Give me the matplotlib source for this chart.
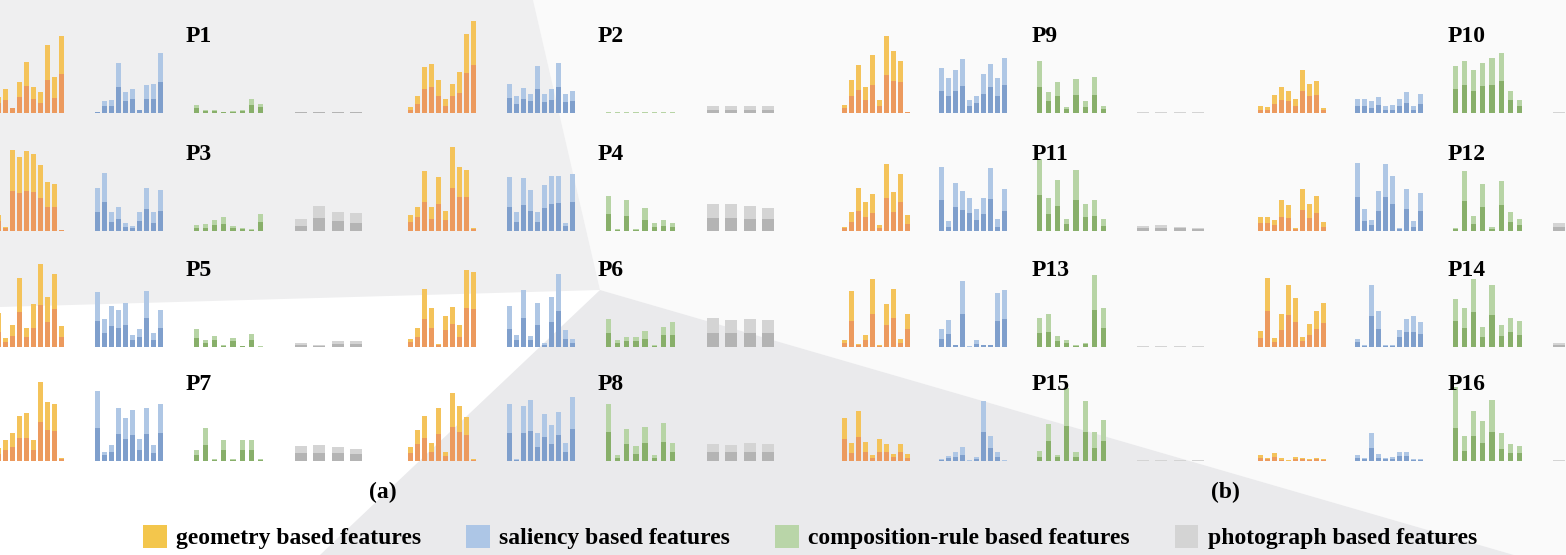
import matplotlib
matplotlib.use('Agg')
import matplotlib.pyplot as plt
import numpy as np
from matplotlib.patches import Patch

# 字体：粗体衬线
matplotlib.rcParams['font.family'] = ['Liberation Serif', 'DejaVu Serif']
matplotlib.rcParams['font.weight'] = 'bold'

W, H = 1566, 555

panel_names = ['P%d' % (i + 1) for i in range(16)]
group_names = ['(a)', '(b)']
legend_labels = ['geometry based features', 'saliency based features',
                 'composition-rule based features', 'photograph based features']

# geometry (10 bars per panel): total height / lower part
geo_total = [
    [16, 24, 5, 31, 51, 26, 21, 68, 36, 77],
    [6, 17, 46, 49, 33, 14, 29, 41, 79, 92],
    [16, 4, 81, 74, 80, 77, 66, 49, 47, 1],
    [16, 24, 60, 24, 54, 20, 84, 64, 61, 3],
    [34, 9, 22, 69, 19, 43, 83, 50, 73, 21],
    [8, 19, 58, 39, 3, 31, 40, 22, 77, 75],
    [13, 21, 28, 45, 48, 21, 79, 59, 57, 3],
    [14, 31, 45, 18, 53, 9, 68, 55, 44, 2],
    [8, 33, 48, 26, 58, 13, 77, 62, 52, 1.5],
    [7, 6, 18, 26, 22, 14, 43, 29, 32, 5],
    [4, 19, 43, 29, 37, 6, 67, 39, 57, 16],
    [14, 14, 11, 31, 26, 3, 42, 27, 35, 9],
    [7, 56, 3, 12, 68, 2, 43, 58, 8, 33],
    [16, 69, 9, 33, 62, 49, 10, 23, 36, 44],
    [43, 18, 50, 19, 6, 22, 17, 7, 17, 7],
    [6, 3, 8, 3, 1, 4, 3, 2, 3, 2],
]
geo_lower = [
    [10, 13, 5, 16, 27, 14, 10, 33, 15, 39],
    [3, 9, 24, 26, 17, 7, 17, 20, 40, 48],
    [10, 3, 40, 38, 40, 39, 33, 24, 24, 1],
    [9, 14, 29, 12, 27, 11, 43, 34, 34, 2],
    [15, 5, 11, 35, 10, 19, 42, 25, 38, 10],
    [5, 10, 28, 19, 2, 17, 23, 10, 39, 38],
    [7, 11, 14, 23, 23, 11, 39, 31, 30, 2],
    [8, 17, 23, 9, 27, 5, 34, 29, 26, 1],
    [5, 17, 23, 13, 28, 7, 38, 32, 31, 1],
    [3, 3, 9, 13, 12, 7, 22, 17, 18, 3],
    [3, 9, 20, 14, 18, 3, 33, 19, 29, 7],
    [8, 8, 6, 14, 13, 2, 21, 13, 18, 4],
    [4, 26, 2, 7, 33, 1, 22, 29, 4, 18],
    [9, 36, 5, 17, 32, 25, 6, 12, 18, 24],
    [22, 8, 24, 9, 3, 9, 9, 4, 9, 3],
    [3, 2, 4, 1, 0.5, 2, 2, 1, 2, 1],
]

# saliency (10 bars per panel)
sal_total = [
    [1, 12, 13, 50, 21, 24, 3, 28, 29, 60],
    [29, 17, 25, 19, 47, 19, 24, 50, 19, 22],
    [43, 58, 19, 24, 8, 5, 19, 43, 19, 41],
    [54, 19, 53, 41, 19, 46, 55, 55, 8, 57],
    [55, 28, 41, 37, 44, 12, 18, 56, 14, 37],
    [41, 12, 57, 11, 44, 4, 50, 73, 17, 8],
    [70, 9, 16, 53, 43, 51, 22, 53, 16, 57],
    [57, 2, 55, 61, 28, 47, 36, 49, 18, 64],
    [45, 35, 43, 54, 13, 17, 39, 49, 35, 55],
    [14, 14, 12, 16, 7, 8, 14, 21, 7, 19],
    [64, 10, 48, 40, 33, 22, 33, 63, 12, 42],
    [68, 22, 11, 40, 67, 55, 3, 42, 10, 38],
    [18, 27, 2, 66, 1, 7, 2, 2, 54, 57],
    [8, 2, 62, 36, 2, 2, 17, 28, 31, 25],
    [2, 5, 9, 14, 1, 4, 60, 25, 9, 1],
    [6, 3, 28, 7, 3, 4, 9, 9, 2, 2],
]
sal_lower = [
    [1, 7, 7, 26, 12, 14, 3, 14, 14, 31],
    [15, 9, 14, 12, 24, 11, 13, 26, 11, 12],
    [19, 29, 9, 12, 4, 3, 10, 22, 8, 20],
    [24, 9, 26, 20, 9, 23, 27, 28, 5, 29],
    [26, 14, 21, 19, 22, 7, 10, 29, 7, 19],
    [18, 7, 29, 7, 22, 2, 25, 36, 8, 4],
    [33, 6, 9, 27, 22, 26, 11, 27, 8, 28],
    [28, 1, 28, 30, 14, 24, 17, 26, 9, 32],
    [22, 17, 22, 27, 7, 10, 19, 26, 17, 28],
    [7, 7, 5, 8, 3, 3, 7, 10, 3, 9],
    [31, 4, 24, 21, 18, 11, 17, 32, 4, 20],
    [34, 10, 6, 20, 34, 27, 2, 22, 4, 20],
    [8, 13, 2, 33, 0.5, 3, 2, 2, 26, 28],
    [5, 1, 31, 18, 1, 1, 10, 15, 15, 13],
    [1, 3, 4, 6, 0.5, 2, 29, 13, 4, 0.5],
    [3, 2, 13, 3, 2, 2, 5, 5, 1, 1],
]

# composition-rule (8 bars per panel)
comp_total = [
    [8, 3, 3, 1, 2, 3, 14, 9],
    [1, 1, 1, 1, 1, 1, 1, 1],
    [6, 7, 11, 14, 5, 3, 2, 17],
    [35, 2, 31, 2, 23, 8, 11, 8],
    [18, 7, 11, 2, 9, 1, 13, 1],
    [28, 7, 10, 10, 16, 2, 20, 25],
    [11, 33, 2, 21, 2, 21, 21, 2],
    [57, 6, 32, 15, 34, 6, 38, 18],
    [52, 21, 31, 6, 34, 12, 36, 7],
    [47, 52, 43, 50, 55, 60, 22, 13],
    [72, 33, 51, 12, 61, 27, 31, 12],
    [3, 60, 15, 47, 4, 50, 19, 12],
    [29, 33, 11, 7, 2, 4, 72, 39],
    [48, 39, 68, 20, 62, 22, 29, 26],
    [10, 37, 6, 73, 9, 60, 29, 41],
    [74, 25, 50, 40, 61, 28, 17, 15],
]
comp_lower = [
    [5, 2, 2, 1, 1, 2, 8, 6],
    [0.5, 0.5, 0.5, 0.5, 0.5, 0.5, 0.5, 0.5],
    [3, 3, 6, 7, 3, 2, 1, 9],
    [17, 1, 15, 1, 11, 4, 5, 4],
    [9, 4, 7, 1, 6, 1, 7, 0.5],
    [14, 4, 6, 6, 8, 1, 12, 12],
    [6, 16, 1, 11, 1, 11, 11, 1],
    [29, 3, 17, 7, 18, 3, 19, 9],
    [26, 12, 17, 4, 18, 6, 18, 4],
    [24, 28, 22, 27, 28, 32, 13, 7],
    [36, 17, 25, 7, 31, 14, 15, 5],
    [2, 30, 7, 24, 2, 26, 9, 6],
    [14, 15, 6, 4, 1, 3, 37, 19],
    [26, 19, 35, 10, 32, 11, 15, 12],
    [4, 20, 4, 35, 4, 29, 13, 20],
    [33, 10, 25, 18, 29, 12, 8, 8],
]

# photograph (4 bars per panel)
photo_total = [
    [1.5, 1.5, 1.5, 1.5],
    [7, 7, 7, 7],
    [12, 25, 19, 18],
    [27, 27, 25, 23],
    [4, 2, 6, 6],
    [29, 27, 28, 27],
    [15, 16, 14, 12],
    [17, 16, 18, 17],
    [1, 1, 1, 1],
    [1, 1, 1, 1],
    [5, 6, 4, 3],
    [8, 8, 7, 7],
    [1, 1, 1, 1],
    [4, 4, 4, 4],
    [1, 1, 1, 1],
    [1, 1, 1, 1],
]
photo_lower = [
    [0.8, 0.8, 0.8, 0.8],
    [3, 3, 3, 3],
    [5, 13, 10, 8],
    [13, 13, 12, 12],
    [2, 1, 3, 3],
    [14, 14, 14, 14],
    [8, 8, 8, 7],
    [9, 9, 9, 9],
    [0.5, 0.5, 0.5, 0.5],
    [0.5, 0.5, 0.5, 0.5],
    [3, 3, 3, 2],
    [4, 4, 4, 4],
    [0.5, 0.5, 0.5, 0.5],
    [2, 2, 2, 2],
    [0.5, 0.5, 0.5, 0.5],
    [0.5, 0.5, 0.5, 0.5],
]

# 颜色 (lower, upper)
COLORS = [('#EC9A5E', '#F4C35A'),
          ('#7F9FCC', '#AFC7E5'),
          ('#88AF6A', '#B7D4A5'),
          ('#B4B4B4', '#D4D4D4')]
LEGEND_COLORS = ['#F3C64C', '#ADC6E6', '#B9D5A8', '#D4D4D4']

# 版面 (pixels)
COL_X = [-4, 408, 842, 1258]
ROW_BASE = [113, 231, 347, 461]
GROUP_OFF = [[0, 99, 198, 299], [0, 97, 195, 295]]
BAR_PITCH = [7.05, 7.05, 9.1, 18.3]
BAR_WIDTH = [4.6, 4.6, 5.2, 12]


def draw_group(ax, x0, base, totals, lowers, k):
    totals = np.array(totals, dtype=float)
    lowers = np.array(lowers, dtype=float)
    x = x0 + BAR_WIDTH[k] / 2 + BAR_PITCH[k] * np.arange(len(totals))
    dark, light = COLORS[k]
    ax.bar(x, lowers, BAR_WIDTH[k], bottom=base, color=dark, lw=0, zorder=2)
    ax.bar(x, totals - lowers, BAR_WIDTH[k], bottom=base + lowers, color=light, lw=0, zorder=2)


def draw_background(ax):
    # 背景的浅灰色块
    ax.fill([533, 1566, 1566, 600], [H, H, H - 570, H - 290], color='#FAFAFA', lw=0, zorder=0)
    ax.fill([0, 533, 600, 0], [H, H, H - 290, H - 307], color='#EFEFF0', lw=0, zorder=0)
    ax.fill([600, 1514, 320], [H - 290, 0, 0], color='#EAEAEC', lw=0, zorder=0)


fig = plt.figure(figsize=(W / 100, H / 100), dpi=100)
fig.patch.set_facecolor('white')
ax = fig.add_axes([0, 0, 1, 1])
ax.set_xlim(0, W)
ax.set_ylim(0, H)
ax.axis('off')

draw_background(ax)

series = [(geo_total, geo_lower), (sal_total, sal_lower),
          (comp_total, comp_lower), (photo_total, photo_lower)]

for p, name in enumerate(panel_names):
    block = p // 8
    row = (p % 8) // 2
    col = p % 2
    x0 = COL_X[block * 2 + col]
    base = H - ROW_BASE[row]
    for k, (tot, low) in enumerate(series):
        draw_group(ax, x0 + GROUP_OFF[block][k], base, tot[p], low[p], k)
    ax.text(x0 + 190, base + 76, name, fontsize=17, fontweight='bold',
            ha='left', va='center', zorder=5)

ax.text(383, H - 492, group_names[0], fontsize=17, ha='center', va='center')
ax.text(1225, H - 492, group_names[1], fontsize=17, ha='center', va='center')

handles = [Patch(facecolor=c, edgecolor='none') for c in LEGEND_COLORS]
fig.legend(handles, legend_labels, loc='center', bbox_to_anchor=(810 / W, (H - 537) / H),
           ncol=4, frameon=False, fontsize=17, handlelength=1.0, handleheight=1.15,
           handletextpad=0.4, columnspacing=1.9, borderpad=0)

fig.savefig('out.png', dpi=100, facecolor='white')
